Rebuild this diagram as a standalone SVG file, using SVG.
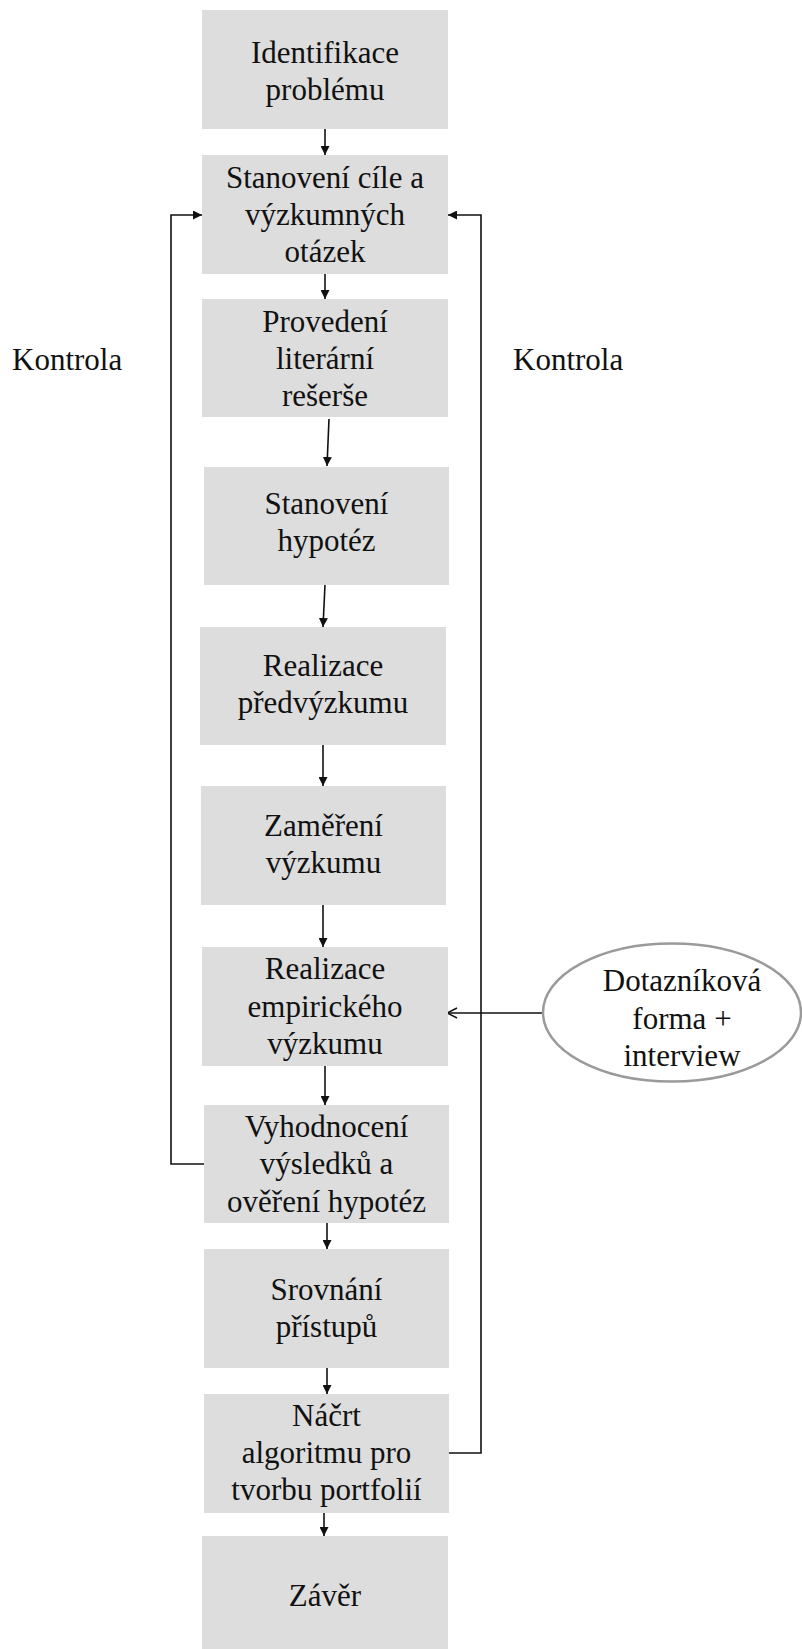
<svg xmlns="http://www.w3.org/2000/svg" width="802" height="1649" viewBox="0 0 802 1649" font-family="Liberation Serif, Times New Roman, serif">
  <style>
    .box { fill: #dddddd; }
    .lbl { font-size: 31px; fill: #111111; text-anchor: middle; }
    .side { font-size: 31px; fill: #111111; }
    .edge { fill: none; stroke: #111111; stroke-width: 1.6; }
    .oval { fill: #ffffff; stroke: #9a9a9a; stroke-width: 2.5; }
  </style>
  <defs>
    <marker id="head" viewBox="0 0 10 10" refX="10" refY="5" markerWidth="9" markerHeight="9" markerUnits="userSpaceOnUse" orient="auto">
      <path d="M0,0 L10,5 L0,10 z" fill="#111111"/>
    </marker>
    <marker id="open" viewBox="0 0 12 12" refX="11" refY="6" markerWidth="12" markerHeight="12" markerUnits="userSpaceOnUse" orient="auto">
      <path d="M1,1 L11,6 L1,11" fill="none" stroke="#111111" stroke-width="1.4"/>
    </marker>
  </defs>

  <rect width="802" height="1649" fill="#ffffff"/>

  <!-- connectors -->
  <g id="connectors">
    <line class="edge" x1="325" y1="129" x2="325" y2="155" marker-end="url(#head)"/>
    <line class="edge" x1="325" y1="274" x2="325" y2="299" marker-end="url(#head)"/>
    <line class="edge" x1="329" y1="419" x2="327" y2="466" marker-end="url(#head)"/>
    <line class="edge" x1="325" y1="585" x2="323" y2="627" marker-end="url(#head)"/>
    <line class="edge" x1="323" y1="745" x2="323" y2="786" marker-end="url(#head)"/>
    <line class="edge" x1="323" y1="905" x2="323" y2="947" marker-end="url(#head)"/>
    <line class="edge" x1="325" y1="1066" x2="325" y2="1105" marker-end="url(#head)"/>
    <line class="edge" x1="327" y1="1223" x2="327" y2="1249" marker-end="url(#head)"/>
    <line class="edge" x1="327" y1="1368" x2="327" y2="1394" marker-end="url(#head)"/>
    <line class="edge" x1="324" y1="1513" x2="324" y2="1536" marker-end="url(#head)"/>
    <!-- feedback loops -->
    <polyline class="edge" points="204,1164 171,1164 171,215 202,215" marker-end="url(#head)"/>
    <polyline class="edge" points="449,1453 481,1453 481,215 448,215" marker-end="url(#head)"/>
    <!-- survey input -->
    <line class="edge" x1="543" y1="1013" x2="447" y2="1013" marker-end="url(#open)"/>
  </g>

  <g id="n1">
    <rect class="box" x="202" y="10" width="246" height="119"/>
    <text class="lbl" x="325" y="63">Identifikace</text>
    <text class="lbl" x="325" y="100">problému</text>
  </g>
  <g id="n2">
    <rect class="box" x="202" y="155" width="246" height="119"/>
    <text class="lbl" x="325" y="188">Stanovení cíle a</text>
    <text class="lbl" x="325" y="225">výzkumných</text>
    <text class="lbl" x="325" y="262">otázek</text>
  </g>
  <g id="n3">
    <rect class="box" x="202" y="299" width="246" height="118"/>
    <text class="lbl" x="325" y="332">Provedení</text>
    <text class="lbl" x="325" y="369">literární</text>
    <text class="lbl" x="325" y="406">rešerše</text>
  </g>
  <g id="n4">
    <rect class="box" x="204" y="467" width="245" height="118"/>
    <text class="lbl" x="326.5" y="514">Stanovení</text>
    <text class="lbl" x="326.5" y="551">hypotéz</text>
  </g>
  <g id="n5">
    <rect class="box" x="200" y="627" width="246" height="118"/>
    <text class="lbl" x="323" y="676">Realizace</text>
    <text class="lbl" x="323" y="713">předvýzkumu</text>
  </g>
  <g id="n6">
    <rect class="box" x="201" y="786" width="245" height="119"/>
    <text class="lbl" x="323.5" y="836">Zaměření</text>
    <text class="lbl" x="323.5" y="873">výzkumu</text>
  </g>
  <g id="n7">
    <rect class="box" x="202" y="947" width="246" height="119"/>
    <text class="lbl" x="325" y="979">Realizace</text>
    <text class="lbl" x="325" y="1017">empirického</text>
    <text class="lbl" x="325" y="1054">výzkumu</text>
  </g>
  <g id="n8">
    <rect class="box" x="204" y="1105" width="245" height="118"/>
    <text class="lbl" x="326.5" y="1137">Vyhodnocení</text>
    <text class="lbl" x="326.5" y="1174">výsledků a</text>
    <text class="lbl" x="326.5" y="1212">ověření hypotéz</text>
  </g>
  <g id="n9">
    <rect class="box" x="204" y="1249" width="245" height="119"/>
    <text class="lbl" x="326.5" y="1300">Srovnání</text>
    <text class="lbl" x="326.5" y="1337">přístupů</text>
  </g>
  <g id="n10">
    <rect class="box" x="204" y="1394" width="245" height="119"/>
    <text class="lbl" x="326.5" y="1426">Náčrt</text>
    <text class="lbl" x="326.5" y="1463">algoritmu pro</text>
    <text class="lbl" x="326.5" y="1500">tvorbu portfolií</text>
  </g>
  <g id="n11">
    <rect class="box" x="202" y="1536" width="246" height="113"/>
    <text class="lbl" x="325" y="1606">Závěr</text>
  </g>

  <g id="survey">
    <ellipse class="oval" cx="672" cy="1012.5" rx="129" ry="69"/>
    <text class="lbl" x="682" y="991">Dotazníková</text>
    <text class="lbl" x="682" y="1029">forma +</text>
    <text class="lbl" x="682" y="1066">interview</text>
  </g>

  <g id="labels">
    <text class="side" x="12" y="370">Kontrola</text>
    <text class="side" x="513" y="370">Kontrola</text>
  </g>
</svg>
